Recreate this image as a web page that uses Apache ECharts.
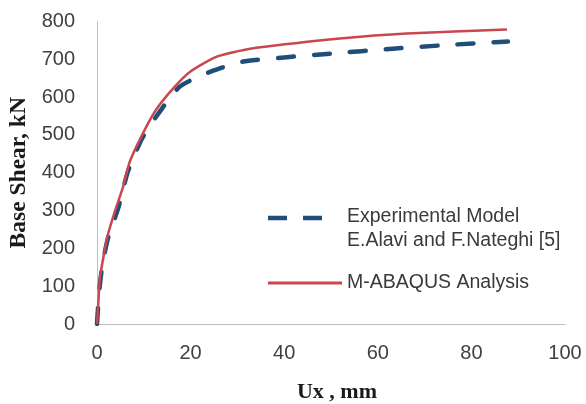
<!DOCTYPE html>
<html>
<head>
<meta charset="utf-8">
<script src="https://cdn.jsdelivr.net/npm/echarts@6/dist/echarts.min.js"></script>
<style>html,body{margin:0;padding:0;background:#fff;}#c{width:586px;height:404px;}</style>
</head>
<body>
<div id="c"></div>
<script>
// Experimental Model (E.Alavi and F.Nateghi [5])
const expX = [0, 0.5, 1.2, 2.4, 4.5, 6.6, 9.6, 12.8, 17.7, 24.8, 31.2, 40, 49.8, 63.2, 75, 86.1, 87.8];
const expY = [0, 90, 160, 230, 305, 403, 490, 551, 628, 670, 694, 705, 715, 728, 738, 746, 747];
// M-ABAQUS Analysis
const anaX = [0, 0.3, 0.6, 1.3, 2.2, 3.8, 5.5, 7, 10.3, 12.8, 16.2, 19.9, 25.6, 32.7, 37.6, 51.9, 66.2, 87.6];
const anaY = [0, 60, 119, 172, 230, 297, 360, 429, 516, 570, 622, 667, 707, 728, 736, 755, 768, 779];
const xTicks = [0, 20, 40, 60, 80, 100];
const yTicks = [0, 100, 200, 300, 400, 500, 600, 700, 800];
const legendNames = ['Experimental Model', 'E.Alavi and F.Nateghi [5]', 'M-ABAQUS Analysis'];

const zip = (xs, ys) => xs.map((x, i) => [x, ys[i]]);
const chart = echarts.init(document.getElementById('c'));
const labelFont = { fontFamily: 'Liberation Sans', fontSize: 20, color: '#404040' };
const nameFont = { fontFamily: 'Liberation Serif', fontSize: 22, fontWeight: 'bold', color: '#1a1a1a' };
chart.setOption({
  animation: false,
  backgroundColor: '#fff',
  grid: { left: 97, right: 21, top: 21.5, bottom: 80, containLabel: false, outerBoundsMode: 'none' },
  xAxis: {
    type: 'value', min: xTicks[0], max: xTicks[xTicks.length - 1], interval: 20,
    name: 'Ux , mm', nameLocation: 'middle', nameGap: 57, nameTextStyle: Object.assign({}, nameFont, { padding: [0, 0, 0, 12] }),
    axisLine: { show: true, lineStyle: { color: '#bfbfbf', width: 1 } },
    axisTick: { show: false }, splitLine: { show: false },
    axisLabel: Object.assign({ margin: 19 }, labelFont)
  },
  yAxis: {
    type: 'value', min: yTicks[0], max: yTicks[yTicks.length - 1], interval: 100,
    name: 'Base Shear, kN', nameLocation: 'middle', nameGap: 66, nameTextStyle: Object.assign({}, nameFont, { fontSize: 23.5 }),
    axisLine: { show: true, lineStyle: { color: '#bfbfbf', width: 1 } },
    axisTick: { show: false }, splitLine: { show: false },
    axisLabel: Object.assign({ margin: 22 }, labelFont)
  },
  series: [
    {
      name: legendNames[0], type: 'line', data: zip(expX, expY), smooth: 0.2,
      symbol: 'none', z: 2,
      lineStyle: { color: '#1f4e79', width: 4.5, type: [16, 20], cap: 'round' }
    },
    {
      name: legendNames[2], type: 'line', data: zip(anaX, anaY), smooth: 0.2,
      symbol: 'none', z: 3,
      lineStyle: { color: '#c9474f', width: 2.5 }
    }
  ],
  graphic: [
    { type: 'line', shape: { x1: 268, y1: 218, x2: 324, y2: 218 },
      style: { stroke: '#1f4e79', lineWidth: 4.5, lineDash: [19, 16] } },
    { type: 'text', left: 347, top: 207, style: { text: legendNames[0], font: '19.5px "Liberation Sans"', fill: '#3a3a3a' } },
    { type: 'text', left: 347, top: 231, style: { text: legendNames[1], font: '19.5px "Liberation Sans"', fill: '#3a3a3a' } },
    { type: 'line', shape: { x1: 268, y1: 283, x2: 342, y2: 283 },
      style: { stroke: '#c9474f', lineWidth: 3 } },
    { type: 'text', left: 347, top: 273, style: { text: legendNames[2], font: '19.5px "Liberation Sans"', fill: '#3a3a3a' } }
  ]
});
</script>
</body>
</html>
